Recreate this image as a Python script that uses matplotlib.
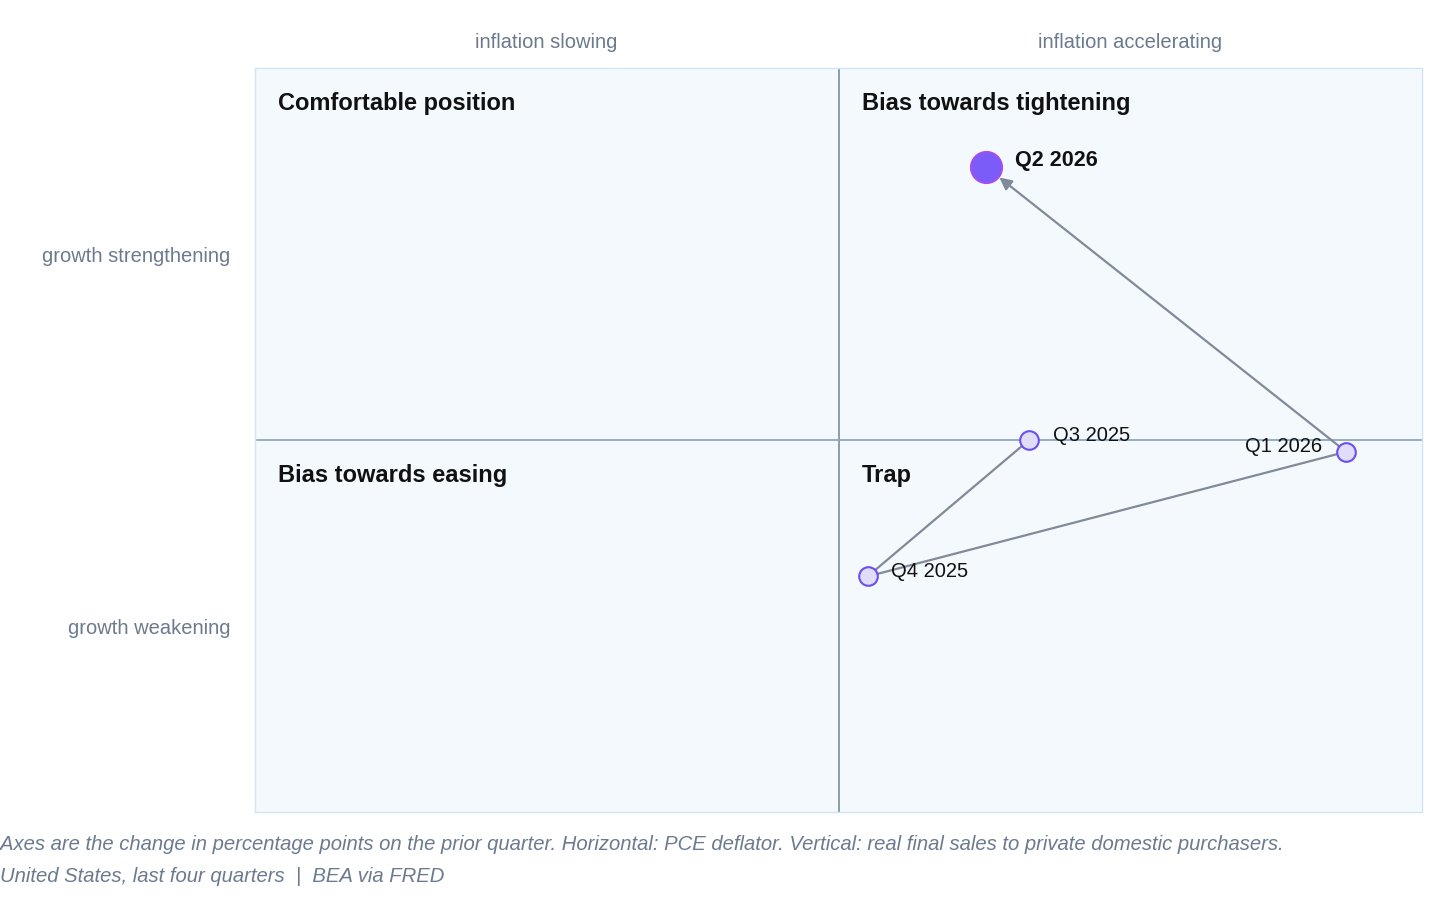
import matplotlib.pyplot as plt

plt.rcParams['font.family'] = ['Liberation Sans', 'DejaVu Sans']

# change on prior quarter, percentage points
quarters = ["Q3 2025", "Q4 2025", "Q1 2026", "Q2 2026"]
pce = [0.098, 0.015, 0.261, 0.076]       # horizontal: PCE deflator
sales = [0.0, -0.22, -0.019, 0.44]       # vertical: real final sales to private domestic purchasers

xlim = 0.3
ylim = 0.6

fig = plt.figure(figsize=(14.56, 9.24), dpi=100)
ax = fig.add_axes([255 / 1456, 112 / 924, 1167 / 1456, 744 / 924])
ax.set_xlim(-xlim, xlim)
ax.set_ylim(-ylim, ylim)
ax.set_facecolor('#f4f9fd')
for s in ax.spines.values():
    s.set_color('#d3e5f3')
    s.set_linewidth(1)
ax.set_xticks([])
ax.set_yticks([])

ax.axvline(0, color='#8494a8', lw=1.3, zorder=1)
ax.axhline(0, color='#8ea6c0', lw=1.3, zorder=1)

# quadrant names
qkw = dict(fontsize=17, fontweight='bold', color='#111111', va='center', ha='left')
ax.text(-xlim + 0.012, ylim - 0.058, "Comfortable position", **qkw)
ax.text(0.012, ylim - 0.058, "Bias towards tightening", **qkw)
ax.text(-xlim + 0.012, -0.058, "Bias towards easing", **qkw)
ax.text(0.012, -0.058, "Trap", **qkw)

# path
line_c = '#808a99'
ax.plot(pce[:3], sales[:3], color=line_c, lw=1.6, zorder=2)
ax.annotate("", xy=(pce[3], sales[3]), xytext=(pce[2], sales[2]),
            arrowprops=dict(arrowstyle='-|>', color=line_c, lw=1.6,
                            mutation_scale=18, shrinkA=0, shrinkB=12,
                            facecolor='#8e9aab'), zorder=2)

ax.scatter(pce[:3], sales[:3], s=180, facecolor='#e0dcfa', edgecolor='#6a4ff2',
           linewidth=1.5, zorder=3)
ax.scatter(pce[3:], sales[3:], s=500, facecolor='#7c5cf8', edgecolor='#a24ff0',
           linewidth=1.5, zorder=3)

lkw = dict(fontsize=14.5, color='#111111', va='center')
ax.annotate(quarters[0], (pce[0], sales[0]), xytext=(17, 3.5), textcoords='offset points', ha='left', **lkw)
ax.annotate(quarters[1], (pce[1], sales[1]), xytext=(17, 3.5), textcoords='offset points', ha='left', **lkw)
ax.annotate(quarters[2], (pce[2], sales[2]), xytext=(-17, 3.5), textcoords='offset points', ha='right', **lkw)
ax.annotate(quarters[3], (pce[3], sales[3]), xytext=(21, 4.5), textcoords='offset points', ha='left',
            fontsize=15.6, fontweight='bold', color='#111111', va='center')

# outer labels
okw = dict(fontsize=14.5, color='#6b7a8f')
fig.text(546 / 1456, 1 - 43 / 924, "inflation slowing", ha='center', va='center', **okw)
fig.text(1130 / 1456, 1 - 43 / 924, "inflation accelerating", ha='center', va='center', **okw)
fig.text(230 / 1456, 1 - 256 / 924, "growth strengthening", ha='right', va='center', **okw)
fig.text(230 / 1456, 1 - 629 / 924, "growth weakening", ha='right', va='center', **okw)

fkw = dict(fontsize=14.6, color='#6b7a8f', style='italic', ha='left', va='center')
fig.text(0, 1 - 845 / 924, "Axes are the change in percentage points on the prior quarter. "
         "Horizontal: PCE deflator. Vertical: real final sales to private domestic purchasers.", **fkw)
fig.text(0, 1 - 876 / 924, "United States, last four quarters  |  BEA via FRED", **fkw)

fig.savefig("out.png", dpi=100)
